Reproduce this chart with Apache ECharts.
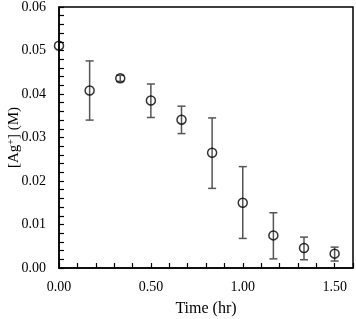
<!DOCTYPE html>
<html>
<head>
<meta charset="utf-8">
<script src="https://cdn.jsdelivr.net/npm/echarts@6/dist/echarts.min.js"></script>
<style>html,body{margin:0;padding:0;background:#fff}#c{width:356px;height:319px}</style>
</head>
<body>
<div id="c"></div>
<script>
var timeHr = [0, 0.1667, 0.3333, 0.5, 0.6667, 0.8333, 1.0, 1.1667, 1.3333, 1.5];
var agConc = [0.0511, 0.0408, 0.0436, 0.0385, 0.0341, 0.0265, 0.0150, 0.0075, 0.0046, 0.0033];
var errLow = [0.0511, 0.0340, 0.0429, 0.0346, 0.0309, 0.0183, 0.0068, 0.0021, 0.0019, 0.0016];
var errHigh = [0.0511, 0.0476, 0.0443, 0.0423, 0.0372, 0.0345, 0.0233, 0.0127, 0.0071, 0.0048];
var xTickLabels = ['0.00', '0.50', '1.00', '1.50'];

var font = 'Liberation Serif';
var pts = timeHr.map(function (t, i) { return [t, agConc[i]]; });
var errs = timeHr.map(function (t, i) { return [t, errLow[i], errHigh[i]]; });

var chart = echarts.init(document.getElementById('c'));
chart.setOption({
  animation: false,
  grid: { left: 59, right: 3, top: 7, bottom: 51, containLabel: false, outerBoundsMode: 'none',
    show: true, borderColor: '#000', borderWidth: 1.5, backgroundColor: 'transparent' },
  xAxis: {
    type: 'value', min: 0, max: 1.6, interval: 0.1,
    name: 'Time (hr)', nameLocation: 'middle', nameGap: 33, nameMoveOverlap: false,
    nameTextStyle: { fontFamily: font, fontSize: 16, color: '#000' },
    axisLine: { lineStyle: { color: '#000', width: 1.5 } },
    axisTick: { inside: true, length: 5, lineStyle: { color: '#000', width: 1.2 } },
    splitLine: { show: false },
    axisLabel: {
      fontFamily: font, fontSize: 14, color: '#000', margin: 12, interval: 0,
      formatter: function (v) {
        var k = Math.round(v * 2);
        if (Math.abs(v * 2 - k) < 1e-6 && k < xTickLabels.length) return xTickLabels[k];
        return '';
      }
    }
  },
  yAxis: {
    type: 'value', min: 0, max: 0.06, interval: 0.01,
    name: '[Ag{sup|+}] (M)', nameLocation: 'middle', nameGap: 37, nameMoveOverlap: false,
    nameTextStyle: { fontFamily: font, fontSize: 15, color: '#000',
      rich: { sup: { fontFamily: font, fontSize: 10, color: '#000', verticalAlign: 'top', padding: [0, 0, 6, 0] } } },
    axisLine: { lineStyle: { color: '#000', width: 1.5 } },
    axisTick: { inside: true, length: 5, lineStyle: { color: '#000', width: 1.2 } },
    minorTick: { show: true, splitNumber: 5, length: 5, lineStyle: { color: '#000', width: 1.2 } },
    splitLine: { show: false },
    axisLabel: { fontFamily: font, fontSize: 14, color: '#000', margin: 13,
      formatter: function (v) { return v.toFixed(2); } }
  },
  series: [
    {
      type: 'custom',
      data: errs,
      z: 1,
      renderItem: function (params, api) {
        var x = api.value(0), lo = api.value(1), hi = api.value(2);
        if (hi - lo < 1e-9) return null;
        var p1 = api.coord([x, lo]), p2 = api.coord([x, hi]);
        var w = 4;
        var st = { stroke: '#555', lineWidth: 1.5 };
        return { type: 'group', children: [
          { type: 'line', shape: { x1: p1[0], y1: p1[1], x2: p2[0], y2: p2[1] }, style: st },
          { type: 'line', shape: { x1: p1[0] - w, y1: p1[1], x2: p1[0] + w, y2: p1[1] }, style: st },
          { type: 'line', shape: { x1: p2[0] - w, y1: p2[1], x2: p2[0] + w, y2: p2[1] }, style: st }
        ] };
      }
    },
    {
      type: 'scatter',
      data: pts,
      z: 2,
      symbol: 'circle', symbolSize: 9,
      itemStyle: { color: 'rgba(255,255,255,0)', borderColor: '#000', borderWidth: 1.5 }
    }
  ]
});
</script>
</body>
</html>
